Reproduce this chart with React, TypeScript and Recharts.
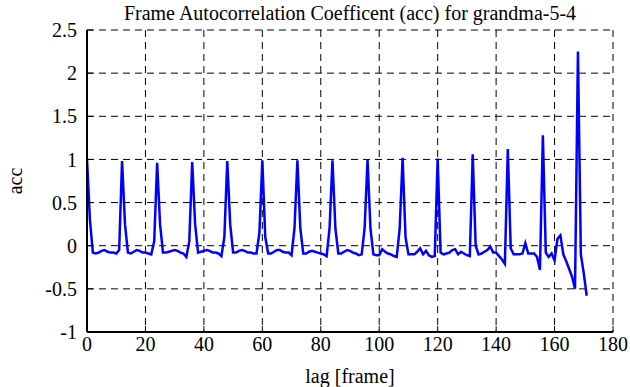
import React from 'react';
import { LineChart, Line, XAxis, YAxis, CartesianGrid } from 'recharts';

// acc value for each lag (index = lag in frames)
const accValues: number[] = [
  1.0, 0.3, -0.08, -0.09, -0.08, -0.06, -0.05, -0.07, -0.08, -0.08, -0.09, -0.05,
  0.98, 0.25, -0.08, -0.09, -0.07, -0.05, -0.06, -0.08, -0.08, -0.09, -0.1, 0.05,
  0.96, 0.25, -0.08, -0.08, -0.07, -0.06, -0.05, -0.06, -0.08, -0.09, -0.13, 0.05,
  0.97, 0.25, -0.08, -0.07, -0.06, -0.05, -0.06, -0.08, -0.08, -0.09, -0.12, 0.1,
  0.98, 0.25, -0.08, -0.08, -0.06, -0.05, -0.06, -0.08, -0.08, -0.09, -0.09, 0.15,
  0.99, 0.1, -0.09, -0.09, -0.07, -0.05, -0.05, -0.07, -0.08, -0.08, -0.11, 0.2,
  0.99, 0.2, -0.09, -0.09, -0.07, -0.06, -0.07, -0.08, -0.09, -0.1, -0.12, 0.2,
  0.99, 0.2, -0.09, -0.09, -0.07, -0.05, -0.06, -0.08, -0.09, -0.11, -0.1, 0.2,
  1.0, 0.2, -0.1, -0.11, -0.11, -0.04, -0.07, -0.09, -0.1, -0.12, -0.13, 0.2,
  1.02, 0.1, -0.1, -0.1, -0.1, -0.07, -0.03, -0.1, -0.06, -0.11, -0.13, -0.12,
  1.01, -0.08, -0.1, -0.09, -0.08, -0.05, -0.04, -0.1, -0.07, -0.09, -0.11, -0.12,
  1.06, 0.0, -0.1, -0.09, -0.07, -0.05, -0.01, -0.08, -0.08, -0.12, -0.16, -0.21,
  1.12, -0.03, -0.1, -0.1, -0.1, -0.09, 0.03, -0.09, -0.09, -0.09, -0.13, -0.28,
  1.28, -0.08, -0.13, -0.09, -0.17, 0.08, 0.12, -0.1, -0.18, -0.27, -0.36, -0.5,
  2.25, -0.1, -0.32, -0.58,
];

const xTicks = [0, 20, 40, 60, 80, 100, 120, 140, 160, 180];
const yTicks = [-1, -0.5, 0, 0.5, 1, 1.5, 2, 2.5];
const xDomain: [number, number] = [0, 180];
const yDomain: [number, number] = [-1, 2.5];

const titleText = 'Frame Autocorrelation Coefficent (acc) for grandma-5-4';
const xLabelText = 'lag [frame]';
const yLabelText = 'acc';

const data = accValues.map((acc, lag) => ({ lag, acc }));

const FONT = "'Liberation Serif', 'Times New Roman', Times, serif";
const FS = 20;
const TL = 6; // inward tick length
const BOTTOM_MARGIN = 5;
const LEFT_MARGIN = 10;

const renderBottomTick = (props: any) => {
  const { x, y, payload } = props;
  const axisY = y - BOTTOM_MARGIN;
  return (
    <g key={`b-${payload.value}`}>
      <line x1={x} x2={x} y1={axisY} y2={axisY - TL} stroke="#000" strokeWidth={1} />
      <text x={x} y={y} dy="0.71em" textAnchor="middle" style={{ fontFamily: FONT, fontSize: FS }} fill="#000">
        {payload.value}
      </text>
    </g>
  );
};

const renderTopTick = (props: any) => {
  const { x, y } = props;
  return <line x1={x} x2={x} y1={y} y2={y + TL} stroke="#000" strokeWidth={1} />;
};

const renderLeftTick = (props: any) => {
  const { x, y, payload } = props;
  const axisX = x + LEFT_MARGIN;
  return (
    <g>
      <line x1={axisX} x2={axisX + TL} y1={y} y2={y} stroke="#000" strokeWidth={1} />
      <text x={x} y={y} dy="0.36em" textAnchor="end" style={{ fontFamily: FONT, fontSize: FS }} fill="#000">
        {payload.value}
      </text>
    </g>
  );
};

const renderRightTick = (props: any) => {
  const { x, y } = props;
  return <line x1={x} x2={x - TL} y1={y} y2={y} stroke="#000" strokeWidth={1} />;
};

const renderXLabel = (props: any) => {
  const vb = props.viewBox || {};
  return (
    <text
      x={vb.x + vb.width / 2}
      y={vb.y + 44}
      dy="0.35em"
      textAnchor="middle"
      style={{ fontFamily: FONT, fontSize: FS }}
      fill="#000"
    >
      {xLabelText}
    </text>
  );
};

const renderYLabel = (props: any) => {
  const vb = props.viewBox || {};
  const cx = vb.x + 15;
  const cy = vb.y + vb.height / 2;
  return (
    <text
      x={cx}
      y={cy}
      dy="0.35em"
      textAnchor="middle"
      transform={`rotate(-90, ${cx}, ${cy})`}
      style={{ fontFamily: FONT, fontSize: FS }}
      fill="#000"
    >
      {yLabelText}
    </text>
  );
};

export default function App() {
  return (
    <div style={{ position: 'absolute', left: 0, top: 0, width: 630, height: 387, background: '#fff' }}>
      <div
        style={{
          position: 'absolute',
          left: 87,
          top: 1,
          width: 526,
          textAlign: 'center',
          fontFamily: FONT,
          fontSize: FS,
          lineHeight: '24px',
          color: '#000',
          whiteSpace: 'nowrap',
        }}
      >
        {titleText}
      </div>
      <LineChart width={630} height={387} data={data} margin={{ top: 30, right: 17, bottom: 0, left: 0 }}>
        <CartesianGrid
          stroke="#000"
          strokeWidth={1}
          strokeDasharray="7 5"
          horizontalValues={yTicks}
          verticalValues={xTicks}
          xAxisId="bottom"
          yAxisId="left"
        />
        <XAxis
          xAxisId="bottom"
          dataKey="lag"
          type="number"
          domain={xDomain}
          ticks={xTicks}
          allowDataOverflow
          height={55}
          tickSize={0}
          tickMargin={BOTTOM_MARGIN}
          tickLine={false}
          tick={renderBottomTick}
          axisLine={{ stroke: '#000', strokeWidth: 2 }}
          interval={0}
          label={renderXLabel}
        />
        <XAxis
          xAxisId="top"
          orientation="top"
          dataKey="lag"
          type="number"
          domain={xDomain}
          ticks={xTicks}
          allowDataOverflow
          height={0}
          tickSize={0}
          tickMargin={0}
          tickLine={false}
          tick={renderTopTick}
          axisLine={{ stroke: '#000', strokeWidth: 2 }}
          interval={0}
        />
        <YAxis
          yAxisId="left"
          type="number"
          domain={yDomain}
          ticks={yTicks}
          allowDataOverflow
          width={87}
          tickSize={0}
          tickMargin={LEFT_MARGIN}
          tickLine={false}
          tick={renderLeftTick}
          axisLine={{ stroke: '#000', strokeWidth: 2 }}
          interval={0}
          label={renderYLabel}
        />
        <YAxis
          yAxisId="right"
          orientation="right"
          type="number"
          domain={yDomain}
          ticks={yTicks}
          allowDataOverflow
          width={0}
          tickSize={0}
          tickMargin={0}
          tickLine={false}
          tick={renderRightTick}
          axisLine={{ stroke: '#000', strokeWidth: 2 }}
          interval={0}
        />
        <Line
          xAxisId="bottom"
          yAxisId="left"
          type="linear"
          dataKey="acc"
          stroke="#0000ff"
          strokeWidth={2.5}
          dot={false}
          activeDot={false}
          isAnimationActive={false}
        />
      </LineChart>
    </div>
  );
}
